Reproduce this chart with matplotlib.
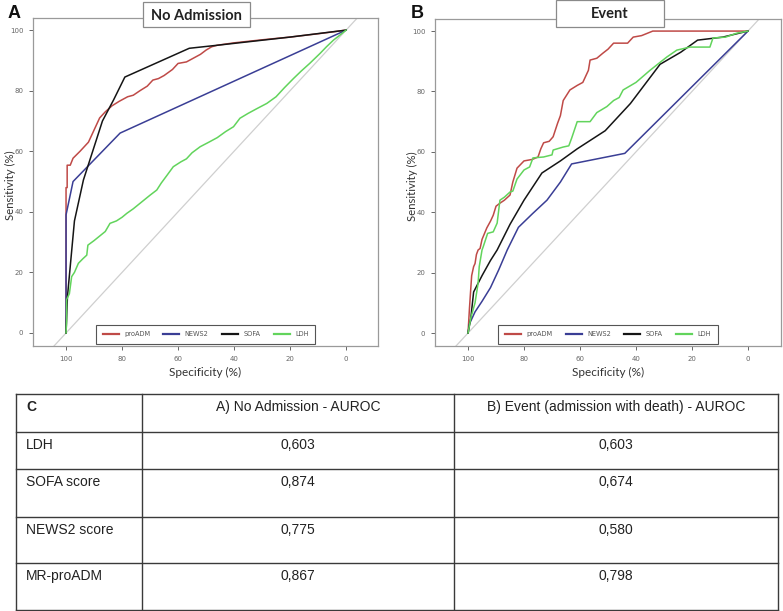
import matplotlib
matplotlib.use("Agg")
import matplotlib.pyplot as plt
from matplotlib.patches import Rectangle

# ---- ROC data (specificity %, sensitivity %) ----
a_proadm_spec = [100, 100, 99.6, 99.6, 98.5, 97.5, 95, 92, 90, 88, 86, 83.6, 81, 78, 76,
                 73.6, 71, 69, 67, 65, 62, 60, 57, 54.6, 52, 50, 48, 46, 40, 30, 20, 10, 4, 0]
a_proadm_sens = [0, 48, 48, 55.4, 55.4, 57.7, 60, 63, 67, 71, 73, 75, 76.5, 78, 78.5,
                 80, 81.5, 83.5, 84, 85, 87, 89, 89.5, 90.7, 92, 93.4, 94.5, 95, 95.8,
                 96.8, 97.7, 98.8, 99.5, 100]
a_news2_spec = [100, 100, 97.5, 80.7, 0]
a_news2_sens = [0, 39, 50, 66, 100]
a_sofa_spec = [100, 99.5, 98, 97, 93.8, 87, 83, 79, 56, 46, 20, 0]
a_sofa_sens = [0, 12, 27, 37, 50.5, 70, 77, 84.5, 94, 95, 97.7, 100]
a_ldh_spec = [100, 99.8, 99.8, 98.8, 98, 97, 95.6, 94, 92.6, 92.2, 90, 88, 86, 84.3, 82,
              80, 78.3, 76, 74, 72, 70, 67.6, 66, 64, 61.7, 59, 57, 55, 52.1, 49, 46,
              43, 40.2, 37.9, 35, 32, 28.3, 25, 22, 18.8, 16, 13, 9.3, 7, 4.5, 2, 0]
a_ldh_sens = [0, 4, 11, 13, 18.6, 20, 23, 24.5, 25.7, 29, 30.5, 32, 33.5, 36.2, 37,
              38.2, 39.5, 41, 42.5, 44, 45.5, 47.2, 49.5, 52, 54.9, 56.5, 57.5, 59.5,
              61.5, 63, 64.5, 66.5, 68.1, 70.9, 72.5, 74, 75.8, 78, 81, 84, 86.5, 89,
              92.3, 94.5, 96.7, 98.5, 100]

b_proadm_spec = [100, 99.5, 99, 98.7, 98, 97.5, 97, 96.4, 95.7, 95, 93.3, 92, 91, 90,
                 88.6, 87, 85, 84, 82.5, 80, 77, 75, 74, 73, 71, 69.6, 68, 67, 66, 63.6,
                 61, 59, 57, 56.4, 54, 51.8, 50, 48, 43, 41, 38, 34, 0]
b_proadm_sens = [0, 8, 15, 19, 22, 23, 26, 27.5, 28, 31, 34.8, 37, 39, 42, 43, 44,
                 45.7, 50, 54.6, 57, 57.5, 58.3, 61, 63, 63.5, 65, 69.5, 72, 77, 80.5,
                 82, 83, 87, 90.4, 91, 92.7, 94, 96, 96, 98, 98.5, 100, 100]
b_news2_spec = [100, 99.5, 97.5, 95, 92, 89, 86, 82, 77, 71.8, 67, 63, 44, 0]
b_news2_sens = [0, 3, 7, 10.5, 15, 21, 27.5, 35, 39.5, 44, 50, 56, 59.5, 100]
b_sofa_spec = [100, 99, 98, 95, 92, 89.6, 85, 80, 73.6, 67, 61, 51, 42, 31.4, 24, 18, 9, 0]
b_sofa_sens = [0, 5, 13.6, 19, 24, 27.5, 36, 44, 53, 57, 61, 67, 76, 89, 93, 97, 98, 100]
b_ldh_spec = [100, 99, 97.5, 96.4, 96, 95, 94.6, 93, 91, 89.6, 88.6, 87, 85, 84, 82.5,
              80, 78, 76.8, 73, 70, 69.6, 66, 64, 63, 61, 56.4, 54, 50.4, 48, 46, 44.6,
              40, 35, 29, 25.4, 20.7, 13.6, 12.5, 8, 4, 0]
b_ldh_sens = [0, 5, 10, 16.5, 22, 27.5, 28.5, 33, 33.5, 36.4, 44, 45, 46.7, 47, 51,
              54, 55, 58, 58.3, 59, 60.6, 61.6, 62, 64.5, 70, 70, 73, 75, 77, 78, 80.5,
              83, 87, 91.4, 93.7, 94.7, 94.7, 97.7, 98, 99.3, 100]

legend_labels = ["proADM", "NEWS2", "SOFA", "LDH"]
line_colors = ["#bf4a47", "#3a3e95", "#151515", "#62d45c"]
ticks = [0, 20, 40, 60, 80, 100]

# ---- table C ----
table_header = ["C", "A) No Admission - AUROC", "B) Event (admission with death) - AUROC"]
table_rows = ["LDH", "SOFA score", "NEWS2 score", "MR-proADM"]
auroc_no_admission = ["0,603", "0,874", "0,775", "0,867"]
auroc_event = ["0,603", "0,674", "0,580", "0,798"]

W, H = 783, 611
fig = plt.figure(figsize=(W / 100, H / 100), dpi=100)
fig.patch.set_facecolor("white")


def px_axes(left, top, right, bottom):
    return fig.add_axes([left / W, 1 - bottom / H, (right - left) / W, (bottom - top) / H])


def roc_panel(ax, curves, xlim, ylim):
    ax.plot([130, -30], [-30, 130], color="#cfcfcf", lw=0.9, zorder=1)
    for (spec, sens), c in zip(curves, line_colors):
        ax.plot(spec, sens, color=c, lw=1.1, zorder=2)
    ax.set_xlim(*xlim)
    ax.set_ylim(*ylim)
    ax.set_xticks(ticks)
    ax.set_yticks(ticks)
    ax.tick_params(labelsize=5, colors="#666666", length=3, width=0.7, pad=4)
    for s in ax.spines.values():
        s.set_color("#9a9a9a")
        s.set_linewidth(0.9)
    ax.set_xlabel("Specificity (%)", family="Lato", fontsize=8.5, color="#333333", labelpad=4)
    ax.set_ylabel("Sensitivity (%)", family="Lato", fontsize=8.2, color="#333333")
    ax.yaxis.set_label_coords(-0.05, 0.49)
    handles = [plt.Line2D([], [], color=c, lw=1.6) for c in line_colors]
    leg = ax.legend(handles, legend_labels, ncol=4, loc="lower center",
                    bbox_to_anchor=(0.5, 0.006), borderaxespad=0, fontsize=4.8,
                    handlelength=2.4, handletextpad=0.8, columnspacing=2.0,
                    borderpad=1.0, fancybox=False, framealpha=1)
    leg.get_frame().set_edgecolor("#555555")
    leg.get_frame().set_linewidth(0.8)
    for t in leg.get_texts():
        t.set_color("#555555")


ax_a = px_axes(33, 18, 378, 346)
roc_panel(ax_a, [(a_proadm_spec, a_proadm_sens), (a_news2_spec, a_news2_sens),
                 (a_sofa_spec, a_sofa_sens), (a_ldh_spec, a_ldh_sens)],
          (111.8, -11.4), (-4.3, 104))

ax_b = px_axes(435, 19, 781, 346)
roc_panel(ax_b, [(b_proadm_spec, b_proadm_sens), (b_news2_spec, b_news2_sens),
                 (b_sofa_spec, b_sofa_sens), (b_ldh_spec, b_ldh_sens)],
          (111.8, -11.8), (-4.3, 104))

# overlay in pixel coordinates for titles, panel letters and the table
ov = fig.add_axes([0, 0, 1, 1])
ov.set_xlim(0, W)
ov.set_ylim(H, 0)
ov.axis("off")
ov.set_zorder(10)

for (x0, x1, y0, y1), title in [((143, 250, 2, 27), "No Admission"), ((556, 664, 0, 27), "Event")]:
    ov.add_patch(Rectangle((x0, y0), x1 - x0, y1 - y0, facecolor="white",
                           edgecolor="#8a8a8a", lw=0.9))
    ov.text((x0 + x1) / 2, (y0 + y1) / 2 + 1, title, ha="center", va="center",
            family="Lato", fontweight="bold", fontsize=10.5, color="#222222")

ov.text(14, 14, "A", ha="center", va="center", family="Liberation Sans",
        fontweight="bold", fontsize=13, color="#111111")
ov.text(417, 14, "B", ha="center", va="center", family="Liberation Sans",
        fontweight="bold", fontsize=13, color="#111111")

col_x = [16, 142, 454, 778]
row_y = [394, 432, 469, 517, 563, 610]
for x in col_x:
    ov.plot([x, x], [row_y[0], row_y[-1]], color="#3a3a3a", lw=1.0)
for y in row_y:
    ov.plot([col_x[0], col_x[-1]], [y, y], color="#3a3a3a", lw=1.0)

cells = [table_header] + [list(r) for r in zip(table_rows, auroc_no_admission, auroc_event)]
for i, row in enumerate(cells):
    top = row_y[i] + 6
    ov.text(col_x[0] + 10, top, row[0], ha="left", va="top", family="Liberation Sans",
            fontsize=10, color="#222222", fontweight="bold" if i == 0 else "normal")
    for j in (1, 2):
        ov.text((col_x[j] + col_x[j + 1]) / 2, top, row[j], ha="center", va="top",
                family="Liberation Sans", fontsize=10, color="#222222")

fig.savefig("out.png", dpi=100)
